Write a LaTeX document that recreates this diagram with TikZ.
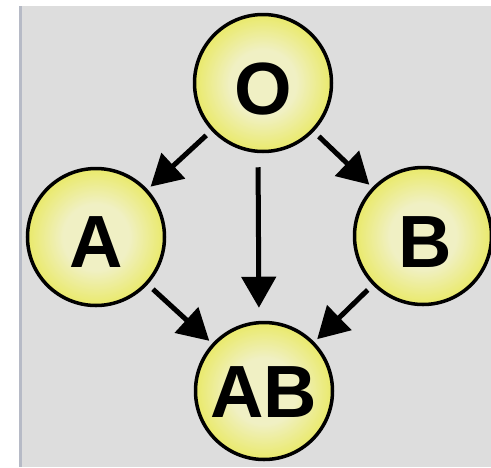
\documentclass[tikz,border=0pt]{standalone}
\usepackage{fontspec}
\setmainfont{Liberation Sans}
\usetikzlibrary{arrows.meta}
\definecolor{bg}{RGB}{221,221,221}
\definecolor{edgestrip}{RGB}{182,186,198}
\definecolor{pale}{RGB}{240,240,196}
\definecolor{yel}{RGB}{228,228,30}
\pgfdeclareradialshading{ball}{\pgfpoint{0bp}{0bp}}{color(0bp)=(pale); color(12bp)=(pale); color(36bp)=(yel); color(50bp)=(yel)}
\begin{document}
\begin{tikzpicture}[x=1pt,y=-1pt,
  ball/.style={circle, draw=black, line width=3.5pt, minimum size=137pt, inner sep=0pt, shading=ball},
  lbl/.style={font=\fontsize{74}{74}\selectfont\bfseries, inner sep=0pt, anchor=base},
  arr/.style={line width=5pt, -{Triangle[length=31pt,width=34pt]}, shorten <=7pt, shorten >=4pt},
  varr/.style={line width=5pt, -{Triangle[length=31pt,width=34pt]}, shorten <=14pt, shorten >=13pt}]
\useasboundingbox (0,0) rectangle (491,467);
\fill[white] (0,0) rectangle (491,467);
\fill[bg] (19,6) rectangle (491,467);
\fill[edgestrip] (19,6) rectangle (22,467);
\node[ball] (o) at (263,83) {};
\node[ball] (a) at (96,237) {};
\node[ball] (b) at (423,236) {};
\node[ball] (ab) at (264,391) {};
\node[lbl] (ot) at (263,114) {O};
\node[lbl] (at) at (96,267) {A};
\node[lbl] (bt) at (425,267) {B};
\node[lbl] (abt) at (264,417) {AB};
\draw[arr] (o) -- (a);
\draw[arr] (o) -- (b);
\draw[arr] (a) -- (ab);
\draw[arr] (b) -- (ab);
\draw[varr] ([xshift=-5pt]o.south) -- ([xshift=-5pt]ab.north);
\end{tikzpicture}
\end{document}
